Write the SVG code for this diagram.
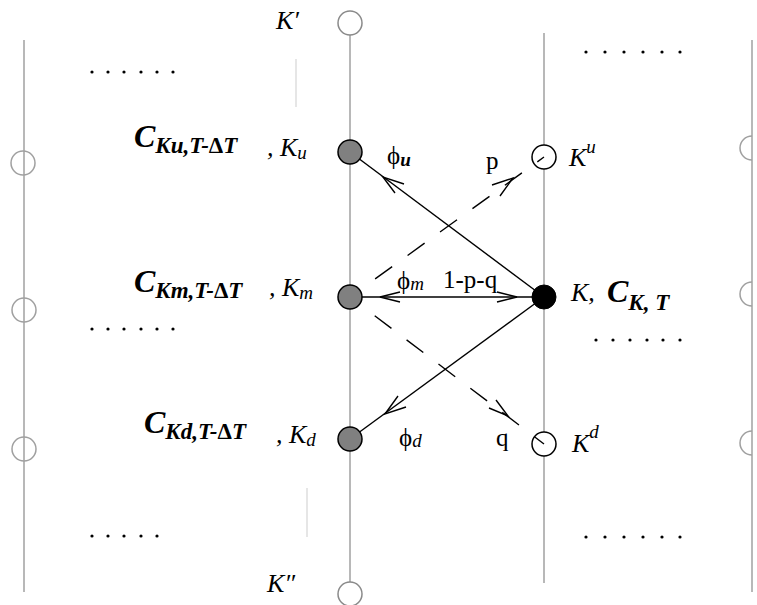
<svg xmlns="http://www.w3.org/2000/svg" width="757" height="605" viewBox="0 0 757 605">
<style>
.g{stroke:#a0a0a0;stroke-width:1.5;fill:none}
.faint{stroke:#dedede;stroke-width:1.5;fill:none}
.gc{stroke:#8a8a8a;stroke-width:1.5;fill:#fff}
.c{stroke:#000;stroke-width:1.4;fill:none}
.d{stroke:#000;stroke-width:1.4;fill:none;stroke-dasharray:21 19;stroke-dashoffset:9}
.node{stroke:#000;stroke-width:1.5;fill:#808080}
.open{stroke:#000;stroke-width:1.5;fill:#fff}
text{font-family:"Liberation Serif","Times New Roman",serif;fill:#000}
.it{font-style:italic;font-size:26px}
.C{font-style:italic;font-weight:bold;font-size:32px}
.s{font-style:italic;font-weight:bold;font-size:23px}
.dl{font-style:normal;font-weight:bold}
.up{font-style:normal;font-size:25px}
.sm{font-style:italic;font-size:19px}
.smb{font-style:italic;font-weight:bold;font-size:19px}
.dots circle{fill:#000}
</style>
<g id="grid">
<line class="g" x1="24" y1="40" x2="24" y2="592"/>
<line class="g" x1="350" y1="35" x2="350" y2="582"/>
<line class="g" x1="544" y1="33" x2="544" y2="583"/>
<line class="g" x1="752" y1="40" x2="752" y2="592"/>
<line class="faint" x1="296" y1="59" x2="296" y2="107"/>
<line class="faint" x1="307" y1="488" x2="307" y2="537"/>
<ellipse class="g" cx="23" cy="163" rx="12" ry="12"/>
<ellipse class="g" cx="24" cy="310" rx="12" ry="12"/>
<ellipse class="g" cx="24" cy="449" rx="12" ry="12"/>
<path class="g" d="M752 136 A12 12 0 0 0 752 160"/>
<path class="g" d="M752 282 A12 12 0 0 0 752 306"/>
<path class="g" d="M752 431 A12 12 0 0 0 752 455"/>
</g>
<g id="dots" class="dots">
<circle cx="92" cy="72" r="1.6"/><circle cx="108" cy="72" r="1.6"/><circle cx="124" cy="72" r="1.6"/><circle cx="141" cy="72" r="1.6"/><circle cx="157" cy="72" r="1.6"/><circle cx="173" cy="72" r="1.6"/>
<circle cx="92" cy="329" r="1.6"/><circle cx="108" cy="329" r="1.6"/><circle cx="124" cy="329" r="1.6"/><circle cx="141" cy="329" r="1.6"/><circle cx="157" cy="329" r="1.6"/><circle cx="173" cy="329" r="1.6"/>
<circle cx="92" cy="536" r="1.6"/><circle cx="108" cy="536" r="1.6"/><circle cx="124" cy="536" r="1.6"/><circle cx="141" cy="536" r="1.6"/><circle cx="157" cy="536" r="1.6"/>
<circle cx="586" cy="52" r="1.6"/><circle cx="605" cy="52" r="1.6"/><circle cx="624" cy="52" r="1.6"/><circle cx="643" cy="52" r="1.6"/><circle cx="662" cy="52" r="1.6"/><circle cx="680" cy="52" r="1.6"/>
<circle cx="596" cy="340" r="1.6"/><circle cx="613" cy="340" r="1.6"/><circle cx="630" cy="340" r="1.6"/><circle cx="647" cy="340" r="1.6"/><circle cx="663" cy="340" r="1.6"/><circle cx="680" cy="340" r="1.6"/>
<circle cx="586" cy="537" r="1.6"/><circle cx="605" cy="537" r="1.6"/><circle cx="624" cy="537" r="1.6"/><circle cx="643" cy="537" r="1.6"/><circle cx="662" cy="537" r="1.6"/><circle cx="680" cy="537" r="1.6"/>
</g>
<g id="Kprime"><circle class="gc" cx="350" cy="23" r="12"/><text class="it" x="276" y="29">K′</text></g>
<g id="Kdprime"><circle class="gc" cx="350" cy="594" r="12"/><text class="it" x="267" y="592">K″</text></g>
<g id="Kup"><circle class="open" cx="544" cy="157" r="12"/><text class="it" x="569" y="166">K<tspan class="sm" dy="-13">u</tspan></text></g>
<g id="Kdown"><circle class="open" cx="544" cy="444" r="12"/><text class="it" x="572" y="452">K<tspan class="sm" dy="-14">d</tspan></text></g>
<g id="connectors">
<line class="c" x1="350" y1="152" x2="544" y2="297"/>
<line class="c" x1="350" y1="297" x2="544" y2="297"/>
<line class="c" x1="350" y1="439" x2="544" y2="297"/>
<line class="d" x1="350" y1="297" x2="544" y2="157"/>
<line class="d" x1="350" y1="297" x2="544" y2="444"/>
<polyline class="c" points="404,184 383,177 395,193"/>
<polyline class="c" points="400,292 380,297 400,302"/>
<polyline class="c" points="497,292 517,297 497,302"/>
<polyline class="c" points="398,396 385,414 406,407"/>
<polyline class="c" points="492,185 513,178 500,196"/>
<polyline class="c" points="489,408 508,416 496,400"/>
</g>
<g id="Ku"><circle class="node" cx="350" cy="152" r="12"/>
<text x="134" y="147"><tspan class="C">C</tspan><tspan class="s" dy="6">Ku,T-<tspan class="dl">Δ</tspan>T</tspan></text>
<text class="it" x="267" y="156">, K<tspan class="sm" dy="3">u</tspan></text></g>
<g id="Km"><circle class="node" cx="350" cy="297" r="12"/>
<text x="134" y="292"><tspan class="C">C</tspan><tspan class="s" dy="6">Km,T-<tspan class="dl">Δ</tspan>T</tspan></text>
<text class="it" x="269" y="296">, K<tspan class="sm" dy="3">m</tspan></text></g>
<g id="Kd"><circle class="node" cx="350" cy="439" r="12"/>
<text x="144" y="433"><tspan class="C">C</tspan><tspan class="s" dy="6">Kd,T-<tspan class="dl">Δ</tspan>T</tspan></text>
<text class="it" x="276" y="443">, K<tspan class="sm" dy="3">d</tspan></text></g>
<g id="K"><circle cx="544" cy="297" r="12" fill="#000" stroke="#000"/>
<text class="it" x="571" y="301">K,</text>
<text x="607" y="302"><tspan class="C">C</tspan><tspan class="s" dy="8">K, T</tspan></text></g>
<g id="labels">
<text x="387" y="164"><tspan class="up">ϕ</tspan><tspan class="smb" dy="2">u</tspan></text>
<text x="397" y="289"><tspan class="up">ϕ</tspan><tspan class="sm" dy="1">m</tspan></text>
<text x="399" y="446"><tspan class="up">ϕ</tspan><tspan class="sm" dy="1">d</tspan></text>
<text class="up" x="443" y="288">1-p-q</text>
<text class="up" x="486" y="169">p</text>
<text class="up" x="496" y="446">q</text>
</g>
</svg>
